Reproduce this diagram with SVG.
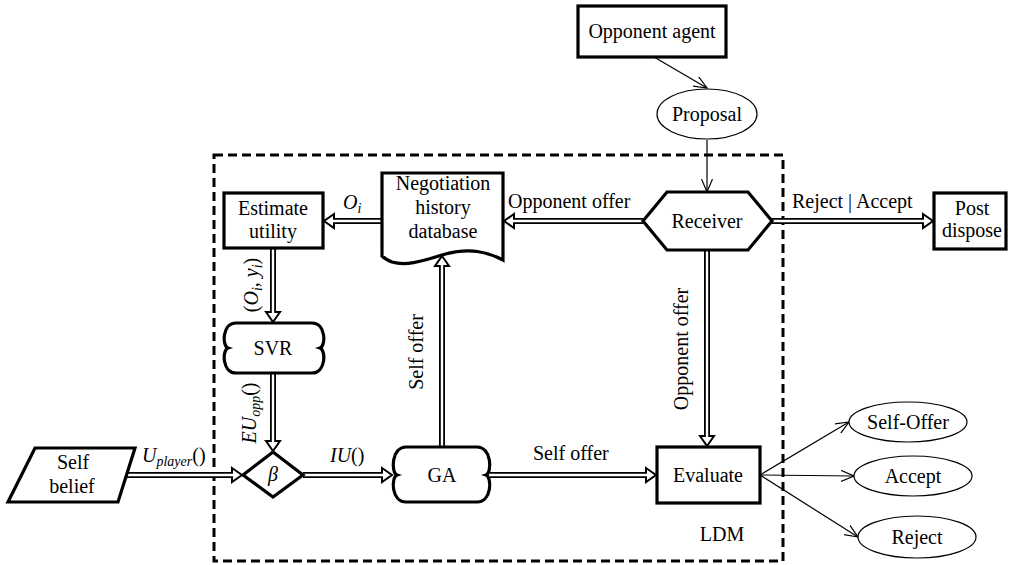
<svg xmlns="http://www.w3.org/2000/svg" width="1009" height="565" viewBox="0 0 1009 565" font-family="Liberation Serif, Times New Roman, DejaVu Serif, Noto Serif, serif">
<defs>
<style>
text{font-family:'Liberation Serif','Times New Roman','DejaVu Serif','Noto Serif',serif;font-size:20px;fill:#000}
.c{text-anchor:middle}
.it{font-style:italic}
.node{fill:#fff;stroke:#000;stroke-width:3.2;stroke-linejoin:miter}
.ell{fill:#fff;stroke:#000;stroke-width:1.2}
.dout{stroke:#000;stroke-width:6;fill:none}
.din{stroke:#fff;stroke-width:2.4;fill:none}
.head{fill:#fff;stroke:#000;stroke-width:2;stroke-linejoin:miter}
.thin{stroke:#000;stroke-width:1.2;fill:none;marker-end:url(#v)}
.frame{fill:none;stroke:#000;stroke-width:3;stroke-dasharray:9 5}
</style>
<marker id="v" viewBox="0 0 14 12" refX="13" refY="6" markerWidth="14" markerHeight="12" markerUnits="userSpaceOnUse" orient="auto">
<path d="M0,0.5 L13,6 L0,11.5" fill="none" stroke="#000" stroke-width="1.2"/>
</marker>
</defs>
<rect width="1009" height="565" fill="#fff"/>

<rect id="ldm-frame" class="frame" x="214" y="155" width="569" height="406"/>

<g id="connectors">
<line class="thin" x1="654" y1="57" x2="707" y2="88"/>
<line class="thin" x1="707" y1="140" x2="707" y2="192"/>
<line class="thin" x1="760" y1="475" x2="849" y2="422"/>
<line class="thin" x1="760" y1="475" x2="854" y2="476"/>
<line class="thin" x1="760" y1="475" x2="858" y2="537"/>

<line class="dout" x1="643" y1="221" x2="514" y2="221"/>
<polygon class="head" points="514,214 504,221 514,228"/>
<line class="din" x1="645" y1="221" x2="512" y2="221"/>
<line class="dout" x1="382" y1="221" x2="334" y2="221"/>
<polygon class="head" points="334,214 324,221 334,228"/>
<line class="din" x1="384" y1="221" x2="332" y2="221"/>
<line class="dout" x1="273" y1="248" x2="273" y2="312"/>
<polygon class="head" points="266,312 273,322 280,312"/>
<line class="din" x1="273" y1="246" x2="273" y2="314"/>
<line class="dout" x1="273" y1="373" x2="273" y2="441"/>
<polygon class="head" points="266,441 273,451 280,441"/>
<line class="din" x1="273" y1="371" x2="273" y2="443"/>
<line class="dout" x1="127" y1="475" x2="232" y2="475"/>
<polygon class="head" points="232,468 242,475 232,482"/>
<line class="din" x1="125" y1="475" x2="234" y2="475"/>
<line class="dout" x1="303" y1="475" x2="382" y2="475"/>
<polygon class="head" points="382,468 392,475 382,482"/>
<line class="din" x1="301" y1="475" x2="384" y2="475"/>
<line class="dout" x1="442" y1="447" x2="442" y2="266"/>
<polygon class="head" points="435,266 442,256 449,266"/>
<line class="din" x1="442" y1="449" x2="442" y2="264"/>
<line class="dout" x1="490" y1="475" x2="646" y2="475"/>
<polygon class="head" points="646,468 656,475 646,482"/>
<line class="din" x1="488" y1="475" x2="648" y2="475"/>
<line class="dout" x1="707" y1="250" x2="707" y2="436"/>
<polygon class="head" points="700,436 707,446 714,436"/>
<line class="din" x1="707" y1="248" x2="707" y2="438"/>
<line class="dout" x1="772" y1="221" x2="923" y2="221"/>
<polygon class="head" points="923,214 933,221 923,228"/>
<line class="din" x1="770" y1="221" x2="925" y2="221"/>

<text class="it" x="343" y="209">O<tspan font-size="14" dy="4">i</tspan></text>
<text x="508" y="208">Opponent offer</text>
<text x="792" y="208">Reject | Accept</text>
<text class="c" transform="translate(258,285) rotate(-90)">(<tspan class="it">O</tspan><tspan class="it" font-size="14" dy="4">i</tspan><tspan dy="-4">, </tspan><tspan class="it">y</tspan><tspan class="it" font-size="14" dy="4">i</tspan><tspan dy="-4">)</tspan></text>
<text class="c" transform="translate(256,413) rotate(-90)"><tspan class="it">EU</tspan><tspan class="it" font-size="14" dy="4">opp</tspan><tspan dy="-4">()</tspan></text>
<text x="142" y="462"><tspan class="it">U</tspan><tspan class="it" font-size="14" dy="4">player</tspan><tspan dy="-4">()</tspan></text>
<text x="330" y="462"><tspan class="it">IU</tspan>()</text>
<text class="c" transform="translate(423,352) rotate(-90)">Self offer</text>
<text x="533" y="460">Self offer</text>
<text class="c" transform="translate(688,349) rotate(-90)">Opponent offer</text>
</g>

<g id="opponent-agent">
<rect class="node" x="578" y="6" width="148" height="51"/>
<text class="c" x="652" y="38">Opponent agent</text>
</g>
<g id="proposal">
<ellipse class="ell" cx="707" cy="114" rx="50" ry="25"/>
<text class="c" x="707" y="121">Proposal</text>
</g>
<g id="receiver">
<polygon class="node" points="643,221 667,192 748,192 772,221 748,250 667,250"/>
<text class="c" x="707" y="228">Receiver</text>
</g>
<g id="post-dispose">
<rect class="node" x="934" y="193" width="72" height="56"/>
<text class="c" x="972" y="215">Post</text>
<text class="c" x="972" y="237">dispose</text>
</g>
<g id="negotiation-db">
<path class="node" d="M382,173 H503 V260 C488,252 470,247 442,255 C420,262 405,266 392,262 C387,260 384,258 382,256 Z"/>
<text class="c" x="443" y="190">Negotiation</text>
<text class="c" x="443" y="214">history</text>
<text class="c" x="443" y="238">database</text>
</g>
<g id="estimate-utility">
<rect class="node" x="224" y="193" width="99" height="55"/>
<text class="c" x="273" y="215">Estimate</text>
<text class="c" x="273" y="238">utility</text>
</g>
<g id="svr">
<path class="node" d="M236,323 H312 C326,323 326,346 320,348 C326,350 326,373 312,373 H236 C222,373 222,350 228,348 C222,346 222,323 236,323 Z"/>
<text class="c" x="273" y="355">SVR</text>
</g>
<g id="beta">
<polygon class="node" points="273,452 303,475 273,497 243,475"/>
<text class="c it" x="273" y="481">β</text>
</g>
<g id="self-belief">
<polygon class="node" points="35,448 135,448 118,502 8,502"/>
<text class="c" x="73" y="469">Self</text>
<text class="c" x="72" y="493">belief</text>
</g>
<g id="ga">
<path class="node" d="M406,447 H477 C492,447 492,473 486,475 C492,477 492,502 477,502 H406 C391,502 391,477 397,475 C391,473 391,447 406,447 Z"/>
<text class="c" x="442" y="482">GA</text>
</g>
<g id="evaluate">
<rect class="node" x="657" y="447" width="103" height="56"/>
<text class="c" x="708" y="482">Evaluate</text>
</g>
<g id="self-offer">
<ellipse class="ell" cx="908" cy="422" rx="59" ry="20"/>
<text class="c" x="908" y="429">Self-Offer</text>
</g>
<g id="accept">
<ellipse class="ell" cx="913" cy="476" rx="59" ry="20"/>
<text class="c" x="913" y="483">Accept</text>
</g>
<g id="reject">
<ellipse class="ell" cx="917" cy="537" rx="59" ry="21"/>
<text class="c" x="917" y="544">Reject</text>
</g>
<g id="ldm-label">
<text class="c" x="722" y="541">LDM</text>
</g>
</svg>
